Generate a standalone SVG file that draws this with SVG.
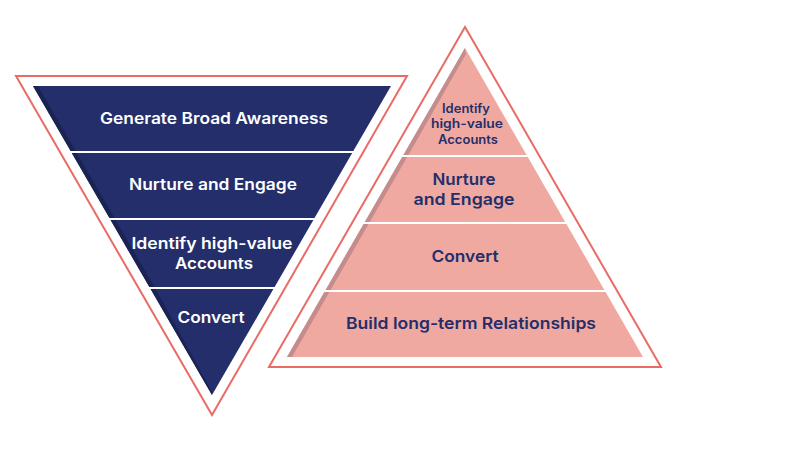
<svg xmlns="http://www.w3.org/2000/svg" width="786" height="451" viewBox="0 0 786 451">
<style>
.frame{fill:none;stroke:#EA6B65;stroke-width:2}
.navy{fill:#232E6B}
.navysh{fill:#1B2352}
.pink{fill:#F0A9A1}
.pinksh{fill:#C48C8D}
text{font-family:"Inter","Open Sans","Liberation Sans",sans-serif;font-weight:600;text-anchor:middle;dominant-baseline:central}
.lt{fill:#FFFFFF;font-size:16px}
.dk{fill:#232E6B;font-size:16.5px}
.sm{font-size:12.5px}
</style>
<rect width="786" height="451" fill="#FFFFFF"/>
<g id="frames">
<polygon class="frame" points="16,76 407,76 212,415"/>
<polygon class="frame" points="465,27 269,367 661,367"/>
</g>
<g id="funnel">
<g id="f-awareness">
<polygon class="navy" points="33,86 391,86 353.3,151 70.7,151"/>
<polygon class="navysh" points="33,86 38,86 75.7,151 70.7,151"/>
<text class="lt" x="214" y="118" textLength="228" lengthAdjust="spacingAndGlyphs">Generate Broad Awareness</text>
</g>
<g id="f-nurture">
<polygon class="navy" points="71.8,153 352.2,153 314.5,218 109.5,218"/>
<polygon class="navysh" points="71.8,153 76.8,153 114.5,218 109.5,218"/>
<text class="lt" x="213" y="184" textLength="168" lengthAdjust="spacingAndGlyphs">Nurture and Engage</text>
</g>
<g id="f-identify">
<polygon class="navy" points="110.6,220 313.4,220 274.6,287 149.4,287"/>
<polygon class="navysh" points="110.6,220 115.6,220 154.4,287 149.4,287"/>
<text class="lt" x="212" y="243" textLength="161" lengthAdjust="spacingAndGlyphs">Identify high-value</text>
<text class="lt" x="214" y="263" textLength="78" lengthAdjust="spacingAndGlyphs">Accounts</text>
</g>
<g id="f-convert">
<polygon class="navy" points="150.6,289 273.4,289 212,395"/>
<polygon class="navysh" points="150.6,289 155.6,289 212,392 212,395"/>
<text class="lt" x="211" y="317" textLength="67" lengthAdjust="spacingAndGlyphs">Convert</text>
</g>
</g>
<g id="pyramid">
<g id="p-identify">
<polygon class="pink" points="465,48 526.6,155 403.4,155"/>
<polygon class="pinksh" points="465,48 466,54 408.4,155 403.4,155"/>
<text class="dk sm" x="466" y="108" textLength="48" lengthAdjust="spacingAndGlyphs">Identify</text>
<text class="dk sm" x="467" y="123" textLength="72" lengthAdjust="spacingAndGlyphs">high-value</text>
<text class="dk sm" x="468" y="139" textLength="60" lengthAdjust="spacingAndGlyphs">Accounts</text>
</g>
<g id="p-nurture">
<polygon class="pink" points="402.2,157 527.8,157 565.2,222 364.8,222"/>
<polygon class="pinksh" points="402.2,157 407.2,157 369.8,222 364.8,222"/>
<text class="dk" x="464" y="179" textLength="63" lengthAdjust="spacingAndGlyphs">Nurture</text>
<text class="dk" x="464" y="199" textLength="101" lengthAdjust="spacingAndGlyphs">and Engage</text>
</g>
<g id="p-convert">
<polygon class="pink" points="363.6,224 566.4,224 604.4,290 325.6,290"/>
<polygon class="pinksh" points="363.6,224 368.6,224 330.6,290 325.6,290"/>
<text class="dk" x="465" y="256" textLength="67" lengthAdjust="spacingAndGlyphs">Convert</text>
</g>
<g id="p-build">
<polygon class="pink" points="324.4,292 605.6,292 643,357 287,357"/>
<polygon class="pinksh" points="324.4,292 329.4,292 292,357 287,357"/>
<text class="dk" x="471" y="323" textLength="250" lengthAdjust="spacingAndGlyphs">Build long-term Relationships</text>
</g>
</g>
<g id="connectors"/>
</svg>
